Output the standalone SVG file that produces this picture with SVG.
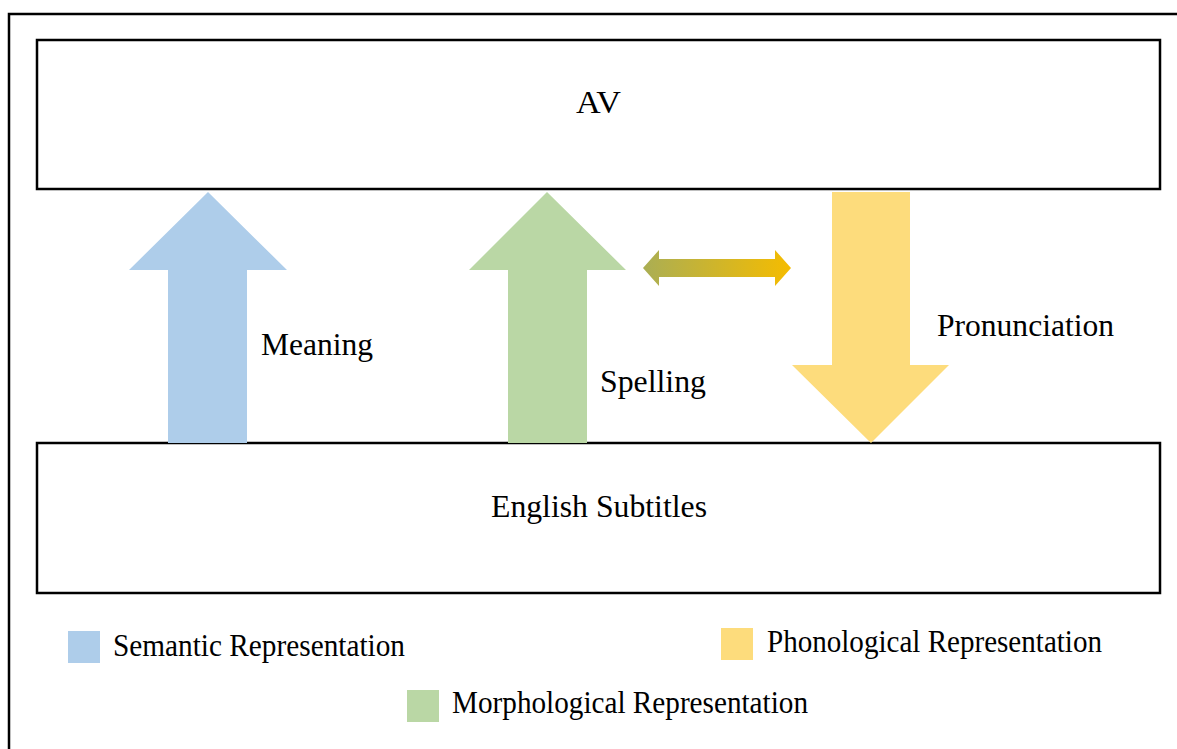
<svg xmlns="http://www.w3.org/2000/svg" width="1177" height="749" viewBox="0 0 1177 749">
  <style>
    .box { fill: #ffffff; stroke: #000000; stroke-width: 2.5; }
    .frame { fill: none; stroke: #000000; stroke-width: 2.5; }
    .label { font-family: "Liberation Serif", "Times New Roman", serif; font-size: 31px; fill: #000000; }
    .legend-text { font-size: 32px; }
    .sem { fill: #AECDEA; }
    .mor { fill: #BAD7A5; }
    .pho { fill: #FDDC7C; }
  </style>
  <defs>
    <linearGradient id="linkGrad" x1="0" y1="0" x2="1" y2="0">
      <stop offset="0" stop-color="#AAAE54"/>
      <stop offset="1" stop-color="#F5BC00"/>
    </linearGradient>
  </defs>

  <rect width="1177" height="749" fill="#ffffff"/>

  <!-- outer frame (runs off the right and bottom edges) -->
  <rect class="frame" x="9" y="14" width="1200" height="760"/>

  <g id="av">
    <rect class="box" x="37" y="40" width="1123" height="149"/>
    <text class="label" x="576" y="113" textLength="45" lengthAdjust="spacingAndGlyphs">AV</text>
  </g>

  <g id="subtitles">
    <rect class="box" x="37" y="443" width="1123" height="150"/>
    <text class="label" x="491" y="517" textLength="216" lengthAdjust="spacingAndGlyphs">English Subtitles</text>
  </g>

  <g id="connectors">
    <!-- semantic: subtitles to AV -->
    <polygon id="meaning-arrow" class="sem" points="208,192 287,270 247,270 247,443 168,443 168,270 129,270"/>
    <!-- morphological: subtitles to AV -->
    <polygon id="spelling-arrow" class="mor" points="547,192 626,270 587,270 587,443 508,443 508,270 469,270"/>
    <!-- phonological: AV to subtitles -->
    <polygon id="pronunciation-arrow" class="pho" points="832,192 910,192 910,365 949,365 871,443 792,365 832,365"/>
    <!-- spelling / pronunciation link -->
    <polygon id="link-arrow" fill="url(#linkGrad)" points="643,268 659,250 659,259 775,259 775,250 791,268 775,286 775,277 659,277 659,286"/>
  </g>

  <g id="meaning-label">
    <text class="label" x="261" y="355" textLength="112" lengthAdjust="spacingAndGlyphs">Meaning</text>
  </g>
  <g id="spelling-label">
    <text class="label" x="600" y="392" textLength="106" lengthAdjust="spacingAndGlyphs">Spelling</text>
  </g>
  <g id="pronunciation-label">
    <text class="label" x="937" y="336" textLength="177" lengthAdjust="spacingAndGlyphs">Pronunciation</text>
  </g>

  <g id="legend">
    <g id="legend-semantic">
      <rect class="sem" x="68" y="631" width="32" height="32"/>
      <text class="label legend-text" x="113" y="656" textLength="292" lengthAdjust="spacingAndGlyphs">Semantic Representation</text>
    </g>
    <g id="legend-phonological">
      <rect class="pho" x="721" y="628" width="32" height="32"/>
      <text class="label legend-text" x="767" y="652" textLength="335" lengthAdjust="spacingAndGlyphs">Phonological Representation</text>
    </g>
    <g id="legend-morphological">
      <rect class="mor" x="407" y="690" width="32" height="32"/>
      <text class="label legend-text" x="452" y="713" textLength="356" lengthAdjust="spacingAndGlyphs">Morphological Representation</text>
    </g>
  </g>
</svg>
